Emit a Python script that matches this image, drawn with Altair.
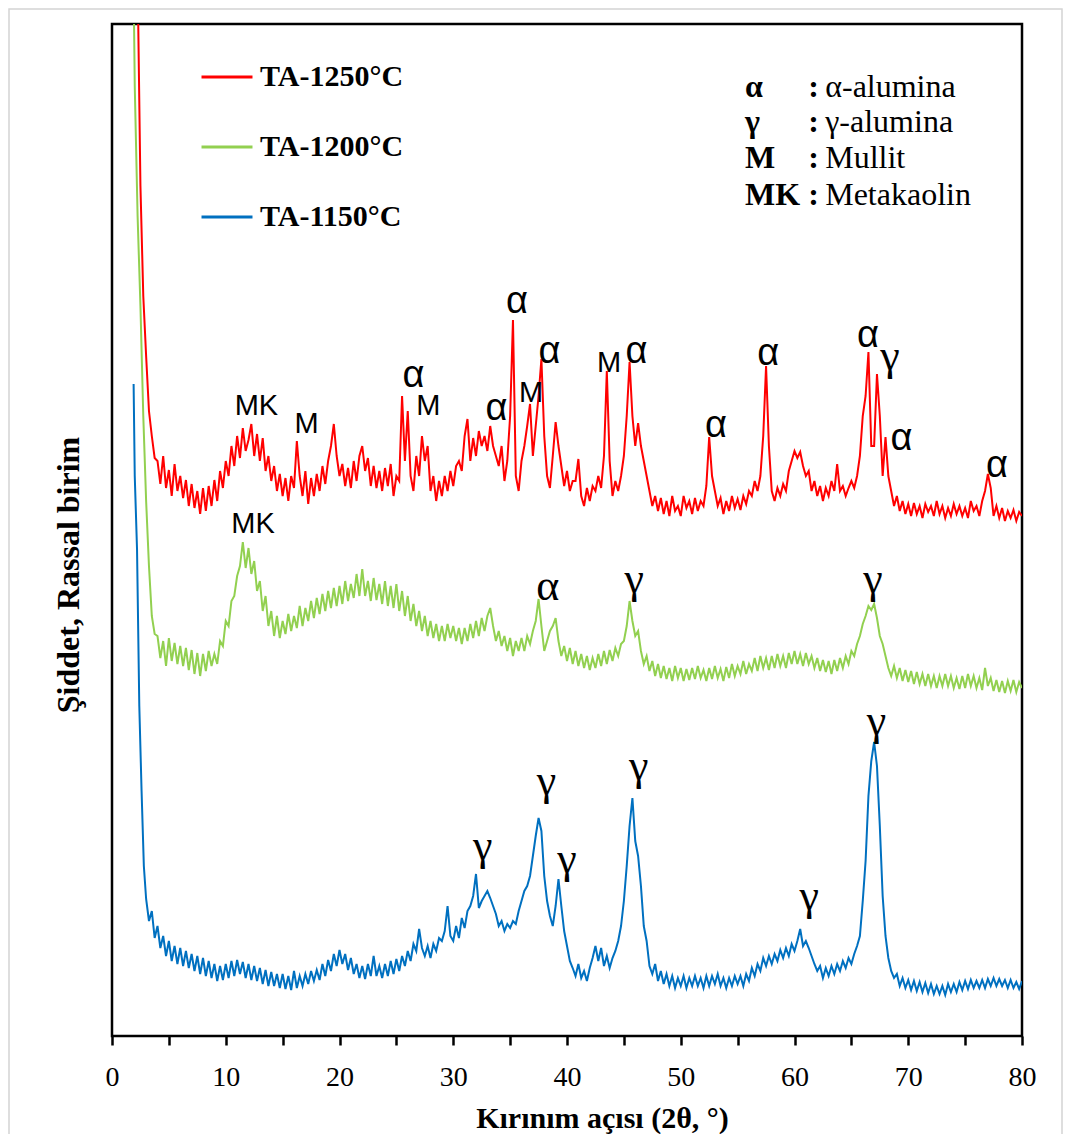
import altair as alt
import pandas as pd

STEP = 0.25
SAMPLES = ["TA-1250°C", "TA-1200°C", "TA-1150°C"]
COLORS = ["#FF0000", "#92D050", "#0070C0"]

# ---- TA-1250°C (red) ----
red_head_x = [2.0, 2.25, 2.5, 2.75, 3.0, 3.25, 3.5, 3.75]
red_head_y = [1300, 1060, 850, 740, 680, 625, 600, 578]
red_start = 4.0
red_vals = [
    575, 552, 580, 548,  566, 540, 572, 545,  560, 538, 556, 530,  552, 528, 545, 522,
    548, 525, 550, 530,  556, 535, 565, 548,  575, 560, 590, 570,  600, 578, 608, 585,
    596, 612, 580, 602,  575, 598, 565, 580,  555, 570, 545, 562,  540, 558, 535, 560,
    548, 595, 560, 540,  565, 532, 558, 540,  562, 545, 570, 552,  575, 590, 612, 580,
    560, 572, 550, 568,  548, 575, 555, 580,  590, 565, 578, 550,  570, 548, 565, 545,
    568, 550, 572, 540,  560, 555, 640, 575,  625, 560, 545, 580,  560, 600, 575, 590,
    545, 560, 535, 555,  540, 560, 545, 565,  550, 570, 575, 565,  600, 617, 575, 598,
    580, 605, 590, 600,  585, 610, 590, 580,  570, 590, 555, 575,  620, 716, 560, 545,
    575, 590, 610, 632,  580, 610, 640, 677,  600, 560, 548, 580,  614, 590, 570, 550,
    565, 545, 555, 555,  577, 540, 530, 548,  535, 550, 545, 560,  548, 580, 665, 575,
    540, 555, 545, 560,  580, 620, 674, 620,  590, 613, 590, 575,  560, 545, 530, 540,
    525, 538, 522, 535,  520, 540, 525, 530,  520, 540, 528, 535,  522, 538, 525, 535,
    530, 550, 599, 560,  545, 530, 538, 522,  535, 525, 540, 528,  537, 526, 540, 532,
    545, 540, 555, 545,  560, 600, 670, 590,  545, 535, 548, 540,  552, 545, 565, 575,
    585, 578, 584, 570,  560, 565, 545, 555,  540, 550, 535, 548,  540, 555, 545, 572,
    545, 550, 540, 548,  555, 548, 560, 580,  620, 640, 684, 590,  590, 662, 620, 560,
    599, 560, 545, 530,  540, 525, 535, 522,  532, 520, 533, 522,  530, 518, 532, 524,
    530, 520, 535, 522,  530, 518, 528, 520,  532, 522, 530, 520,  528, 518, 535, 525,
    530, 520, 535, 545,  562, 548, 520, 530,  518, 528, 515, 525,  518, 526, 515, 524,
    520,
]

# ---- TA-1200°C (green) ----
green_head_x = [1.75, 2.0, 2.25, 2.5, 2.75, 3.0, 3.25, 3.5, 3.75]
green_head_y = [1200, 950, 820, 730, 620, 535, 470, 420, 402]
green_start = 4.0
green_vals = [
    400, 378, 395, 370,  398, 375, 393, 372,  390, 370, 388, 366,  386, 362, 383, 360,
    382, 365, 385, 370,  382, 372, 395, 390,  415, 410, 435, 440,  460, 470, 494, 468,
    488, 462, 475, 445,  455, 425, 440, 410,  425, 400, 420, 398,  415, 402, 422, 405,
    420, 408, 430, 410,  428, 415, 435, 418,  438, 422, 442, 425,  445, 428, 448, 430,
    450, 432, 455, 435,  452, 438, 462, 440,  467, 440, 455, 435,  458, 436, 452, 432,
    455, 430, 450, 428,  452, 425, 445, 420,  440, 415, 432, 410,  425, 405, 420, 400,
    415, 398, 412, 395,  410, 395, 412, 398,  410, 395, 408, 392,  408, 395, 412, 398,
    415, 400, 418, 405,  420, 428, 410, 395,  405, 390, 400, 385,  398, 380, 395, 385,
    398, 385, 400, 392,  405, 415, 437, 410,  385, 395, 405, 410,  418, 395, 380, 390,
    375, 388, 372, 385,  370, 382, 368, 380,  366, 378, 368, 382,  370, 385, 372, 386,
    375, 388, 380, 392,  395, 410, 435, 415,  400, 405, 385, 372,  380, 365, 375, 360,
    372, 358, 370, 357,  368, 355, 370, 358,  368, 355, 367, 356,  368, 357, 370, 358,
    366, 355, 368, 357,  370, 358, 367, 355,  369, 358, 372, 360,  370, 362, 375, 362,
    372, 365, 378, 365,  380, 368, 378, 366,  380, 368, 382, 370,  380, 368, 383, 372,
    385, 372, 382, 370,  383, 372, 380, 368,  378, 365, 376, 364,  375, 362, 376, 365,
    378, 368, 380, 372,  385, 380, 392, 400,  412, 420, 430, 426,  432, 418, 400, 392,
    380, 368, 360, 370,  358, 368, 355, 366,  354, 365, 352, 364,  352, 362, 350, 362,
    350, 360, 348, 360,  350, 362, 350, 360,  348, 358, 347, 360,  348, 362, 350, 360,
    348, 358, 346, 368,  350, 358, 345, 356,  344, 355, 343, 355,  345, 356, 344, 354,
    348,
]

# ---- TA-1150°C (blue) ----
blue_head_x = [1.9, 2.0, 2.2, 2.4, 2.6, 2.8, 3.0, 3.25, 3.5, 3.75]
blue_head_y = [652, 560, 487, 330, 245, 170, 137, 115, 125, 98]
blue_start = 4.0
blue_vals = [
    110, 88, 100, 80,  95, 75, 90, 72,  88, 70, 85, 68,  82, 65, 80, 62,
    78, 60, 75, 58,  72, 55, 70, 56,  72, 58, 75, 60,  76, 62, 74, 58,
    72, 56, 70, 55,  68, 52, 66, 50,  64, 50, 62, 48,  62, 47, 60, 46,
    65, 48, 60, 50,  62, 52, 65, 55,  66, 56, 72, 60,  76, 65, 82, 70,
    86, 72, 82, 66,  78, 62, 72, 58,  70, 57, 72, 60,  80, 60, 70, 58,
    72, 60, 75, 62,  77, 65, 80, 70,  85, 75, 92, 85,  107, 88, 80, 90,
    78, 92, 85, 98,  95, 105, 130, 100,  95, 110, 98, 118,  108, 125, 130, 140,
    162, 128, 135, 140,  145, 138, 130, 122,  110, 115, 105, 112,  108, 115, 112, 125,
    135, 145, 150, 160,  180, 200, 218, 205,  160, 135, 120, 110,  130, 157, 130, 105,
    90, 75, 68, 60,  72, 58, 65, 55,  68, 78, 90, 75,  88, 70, 80, 68,
    78, 85, 95, 110,  135, 170, 210, 238,  195, 180, 150, 110,  95, 70, 62, 72,
    55, 65, 52, 62,  50, 60, 48, 58,  50, 60, 48, 58,  50, 60, 50, 58,
    48, 60, 50, 60,  52, 62, 50, 58,  48, 58, 50, 60,  52, 60, 50, 62,
    55, 68, 60, 72,  65, 78, 70, 80,  72, 82, 75, 86,  78, 88, 80, 92,
    85, 95, 107, 90,  95, 88, 80, 72,  65, 70, 58, 68,  60, 70, 62, 72,
    65, 75, 68, 78,  72, 82, 90, 100,  135, 175, 240, 275,  294, 270, 210, 140,
    100, 78, 65, 58,  62, 50, 58, 48,  56, 46, 55, 45,  54, 44, 53, 43,
    52, 42, 50, 42,  50, 41, 52, 44,  52, 44, 54, 46,  55, 47, 56, 48,
    55, 48, 56, 48,  57, 50, 58, 50,  57, 50, 56, 48,  56, 48, 54, 47,
    55,
]

# ---- peak annotations ----
sans_labels = ["MK", "M", "α", "M", "α", "α", "M", "α", "M", "α", "α", "α", "α", "α", "α", "MK"]
sans_x = [12.7, 17.1, 26.5, 27.8, 33.8, 35.6, 36.85, 38.45, 43.7, 46.1, 53.1, 57.7, 66.45, 69.4, 77.8, 12.4]
sans_y = [621, 603, 649, 621, 616, 723, 634, 673, 664, 673, 599, 671, 689, 586, 559, 503]
sans_size = [29, 29, 38, 29, 38, 38, 29, 38, 29, 38, 38, 38, 38, 38, 38, 29]

serif_labels = ["γ", "α", "γ", "γ", "γ", "γ", "γ", "γ", "γ", "γ"]
serif_x = [68.4, 38.3, 45.9, 66.9, 32.6, 38.2, 40.0, 46.3, 61.3, 67.2]
serif_y = [666, 436, 443, 443, 176, 241, 163, 256, 126, 301]

# ---- phase key ----
key_symbols = ["α", "γ", "M", "MK"]
key_names = ["α-alumina", "γ-alumina", "Mullit", "Metakaolin"]
key_y = [939, 904, 868, 831]
key_sym_x = 55.65
key_colon_x = 61.2
key_name_x = 62.7

X_TITLE = "Kırınım açısı (2θ, °)"
Y_TITLE = "Şiddet,  Rassal  birim"


def series_frame(name, hx, hy, start, vals):
    xs = list(hx) + [start + STEP * i for i in range(len(vals))]
    ys = list(hy) + list(vals)
    return pd.DataFrame({"angle": xs, "intensity": ys, "sample": name, "idx": list(range(len(xs)))})


df = pd.concat([
    series_frame(SAMPLES[2], blue_head_x, blue_head_y, blue_start, blue_vals),
    series_frame(SAMPLES[1], green_head_x, green_head_y, green_start, green_vals),
    series_frame(SAMPLES[0], red_head_x, red_head_y, red_start, red_vals),
], ignore_index=True)

x_axis = alt.Axis(
    values=list(range(0, 81, 5)),
    labelExpr="datum.value % 10 == 0 ? datum.label : ''",
    domain=False, grid=False,
    ticks=True, tickSize=9, tickWidth=2.5, tickColor="black",
    labelFont="Liberation Serif", labelFontSize=28, labelColor="black", labelPadding=18,
    labelFlush=False,
    title=X_TITLE, titleFont="Liberation Serif", titleFontSize=30, titleFontWeight="bold",
    titleColor="black", titleX=490, titleY=91, titleBaseline="alphabetic", titleAlign="center",
)
x_scale = alt.Scale(domain=[0, 80], nice=False, zero=False)
y_scale = alt.Scale(domain=[0, 1012], nice=False, zero=True)

X = alt.X("angle:Q", scale=x_scale, axis=x_axis)
Y = alt.Y("intensity:Q", scale=y_scale, axis=None)

lines = alt.Chart(df).mark_line(strokeWidth=2, clip=True).encode(
    x=X, y=Y,
    color=alt.Color("sample:N", scale=alt.Scale(domain=SAMPLES, range=COLORS),
                    sort=SAMPLES,
                    legend=alt.Legend(
                        title=None, orient="none", legendX=88, legendY=26,
                        symbolType="stroke", symbolSize=2600, symbolStrokeWidth=3,
                        labelFont="Liberation Serif", labelFontSize=30, labelFontWeight="bold",
                        labelColor="black", labelOffset=6, rowPadding=28, padding=0,
                    )),
    order="idx:Q",
)

sans_df = pd.DataFrame({"label": sans_labels, "angle": sans_x, "intensity": sans_y, "fs": sans_size})
sans_text = alt.Chart(sans_df).mark_text(font="Liberation Sans", baseline="alphabetic",
                                         align="center", color="black").encode(
    x=X, y=Y, text="label:N", size=alt.Size("fs:Q", scale=None, legend=None))

serif_df = pd.DataFrame({"label": serif_labels, "angle": serif_x, "intensity": serif_y})
serif_text = alt.Chart(serif_df).mark_text(font="Liberation Serif", baseline="alphabetic",
                                           align="center", color="black", fontSize=44).encode(
    x=X, y=Y, text="label:N")

key_df = pd.DataFrame({"sym": key_symbols, "name": key_names, "intensity": key_y,
                       "sx": [key_sym_x] * 4, "cx": [key_colon_x] * 4, "nx": [key_name_x] * 4,
                       "colon": [":"] * 4})
key_sym = alt.Chart(key_df).mark_text(font="Liberation Serif", fontSize=32, fontWeight="bold",
                                      align="left", baseline="alphabetic", color="black").encode(
    x=alt.X("sx:Q", scale=x_scale, axis=x_axis), y=Y, text="sym:N")
key_colon = alt.Chart(key_df).mark_text(font="Liberation Serif", fontSize=32, fontWeight="bold",
                                        align="left", baseline="alphabetic", color="black").encode(
    x=alt.X("cx:Q", scale=x_scale, axis=x_axis), y=Y, text="colon:N")
key_name = alt.Chart(key_df).mark_text(font="Liberation Serif", fontSize=32,
                                       align="left", baseline="alphabetic", color="black").encode(
    x=alt.X("nx:Q", scale=x_scale, axis=x_axis), y=Y, text="name:N")

y_title = alt.Chart(pd.DataFrame({"t": [Y_TITLE]})).mark_text(
    font="Liberation Serif", fontSize=32, fontWeight="bold", angle=270,
    align="center", baseline="alphabetic", color="black").encode(
    x=alt.value(-33), y=alt.value(551), text="t:N")

outer = alt.Chart(pd.DataFrame({"k": [0]})).mark_rect(
    fill=None, stroke="#d4d4d4", strokeWidth=1.5, clip=False).encode(
    x=alt.value(-103), x2=alt.value(950), y=alt.value(-15), y2=alt.value(1120))

chart = alt.layer(outer, lines, sans_text, serif_text, key_sym, key_colon, key_name, y_title).properties(
    width=910, height=1012,
    autosize=alt.AutoSizeParams(type="none"),
    padding={"left": 104, "top": 16, "right": 41, "bottom": 98},
).configure_view(stroke="black", strokeWidth=2.5)

chart.save("out.html", embed_options={"renderer": "svg", "actions": False})
